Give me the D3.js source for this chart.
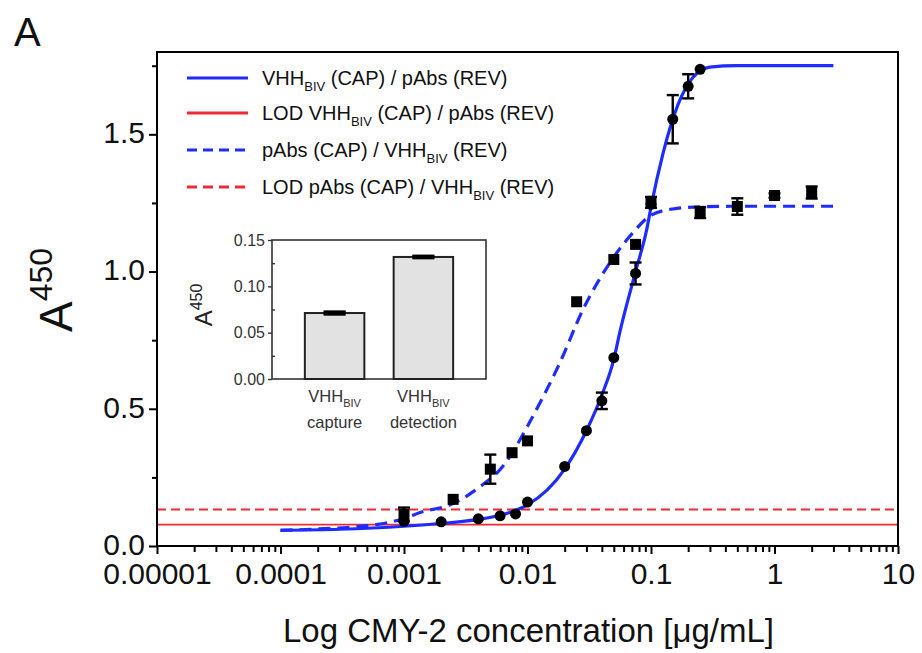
<!DOCTYPE html>
<html><head><meta charset="utf-8">
<script src="https://cdn.jsdelivr.net/npm/d3@7"></script>
<style>body{margin:0;background:#fff}svg{display:block}text{font-family:"Liberation Sans",Arial,Helvetica,sans-serif}</style>
</head><body><svg id="c" width="922" height="653"></svg>
<script>
// ---------- data ----------
const xTickValues = [1e-5, 1e-4, 1e-3, 1e-2, 1e-1, 1, 10];
const xTickLabels = ["0.00001", "0.0001", "0.001", "0.01", "0.1", "1", "10"];
const yTickValues = [0, 0.5, 1.0, 1.5];
const yMinorTicks = [0.25, 0.75, 1.25, 1.75];

// VHH_BIV (CAP) / pAbs (REV) : circles
const capConc = [0.001, 0.002, 0.004, 0.006, 0.008, 0.01, 0.02, 0.03, 0.04, 0.05, 0.075, 0.1, 0.15, 0.2, 0.25];
const capVal  = [0.09, 0.088, 0.099, 0.11, 0.117, 0.16, 0.29, 0.42, 0.529, 0.686, 0.993, 1.245, 1.555, 1.675, 1.737];
const capErr  = [0, 0, 0, 0, 0, 0, 0, 0, 0.03, 0, 0.04, 0, 0.088, 0.044, 0];

// pAbs (CAP) / VHH_BIV (REV) : squares
const detConc = [0.001, 0.0025, 0.005, 0.0075, 0.01, 0.025, 0.05, 0.075, 0.1, 0.25, 0.5, 1, 2];
const detVal  = [0.115, 0.17, 0.28, 0.34, 0.383, 0.89, 1.044, 1.099, 1.252, 1.215, 1.237, 1.277, 1.288];
const detErr  = [0.025, 0, 0.053, 0, 0, 0, 0, 0, 0.02, 0.02, 0.03, 0.008, 0.022];

// fitted curves
const capFitConc = [0.0001, 0.0003, 0.001, 0.002, 0.004, 0.006, 0.008, 0.01, 0.02, 0.03, 0.04, 0.05, 0.056, 0.075, 0.093, 0.1, 0.125, 0.166, 0.219, 0.3, 0.5, 1, 3];
const capFitVal  = [0.057, 0.061, 0.072, 0.082, 0.097, 0.112, 0.13, 0.15, 0.28, 0.42, 0.55, 0.68, 0.78, 1.0, 1.16, 1.235, 1.43, 1.61, 1.708, 1.745, 1.75, 1.75, 1.75];
const detFitConc = [0.0001, 0.0002, 0.0004, 0.00064, 0.001, 0.00135, 0.00236, 0.0041, 0.0063, 0.0087, 0.0101, 0.0183, 0.0281, 0.0466, 0.0715, 0.1, 0.15, 0.25, 0.5, 3];
const detFitVal  = [0.057, 0.062, 0.07, 0.08, 0.1, 0.122, 0.15, 0.215, 0.29, 0.387, 0.44, 0.668, 0.861, 1.033, 1.142, 1.205, 1.228, 1.236, 1.238, 1.238];

const lodCap = 0.078;
const lodDet = 0.133;

const legendMain = ["VHH", "LOD VHH", "pAbs (CAP) / VHH", "LOD pAbs (CAP) / VHH"];
const legendSub  = ["BIV", "BIV", "BIV", "BIV"];
const legendTail = [" (CAP) / pAbs (REV)", " (CAP) / pAbs (REV)", " (REV)", " (REV)"];
const legendColor = ["#1f2cff", "#ee2a35", "#1f2cff", "#ee2a35"];
const legendDash  = [null, null, "dash", "dash"];

// inset
const insetCats = ["capture", "detection"];
const insetVals = [0.0712, 0.1317];
const insetErr  = [0.0018, 0.0015];
const insetTicks = [0, 0.05, 0.10, 0.15];
const insetMinor = [0.025, 0.075, 0.125];

// ---------- layout ----------
const svg = d3.select("#c");
const L = 157, R = 898, T = 52, B = 546;
const x = d3.scaleLog().domain([1e-5, 10]).range([L, R]);
const y = d3.scaleLinear().domain([0, 1.8]).range([B, T]);
const blue = "#1f2cff", red = "#ee2a35";

// panel letter
svg.append("text").attr("x", 14).attr("y", 46).attr("font-size", 40).attr("fill", "#111").text("A");

// LOD lines
svg.append("line").attr("x1", L).attr("x2", R).attr("y1", y(lodCap)).attr("y2", y(lodCap))
  .attr("stroke", red).attr("stroke-width", 1.6);
svg.append("line").attr("x1", L).attr("x2", R).attr("y1", y(lodDet)).attr("y2", y(lodDet))
  .attr("stroke", red).attr("stroke-width", 2).attr("stroke-dasharray", "9,5");

// fitted curves
const line = d3.line().x(d => x(d[0])).y(d => y(d[1])).curve(d3.curveMonotoneX);
svg.append("path").attr("d", line(detFitConc.map((c, i) => [c, detFitVal[i]])))
  .attr("fill", "none").attr("stroke", blue).attr("stroke-width", 3.2).attr("stroke-dasharray", "12,7");
svg.append("path").attr("d", line(capFitConc.map((c, i) => [c, capFitVal[i]])))
  .attr("fill", "none").attr("stroke", blue).attr("stroke-width", 3.2);

// error bars
function errBars(conc, val, err) {
  const g = svg.append("g").attr("stroke", "#000").attr("stroke-width", 2.4);
  conc.forEach((c, i) => {
    if (!err[i]) return;
    const cx = x(c), y1 = y(val[i] - err[i]), y2 = y(val[i] + err[i]);
    g.append("line").attr("x1", cx).attr("x2", cx).attr("y1", y1).attr("y2", y2);
    g.append("line").attr("x1", cx - 6).attr("x2", cx + 6).attr("y1", y1).attr("y2", y1);
    g.append("line").attr("x1", cx - 6).attr("x2", cx + 6).attr("y1", y2).attr("y2", y2);
  });
}
errBars(capConc, capVal, capErr);
errBars(detConc, detVal, detErr);

svg.append("g").selectAll("rect").data(detConc).join("rect")
  .attr("x", d => x(d) - 5.5).attr("y", (d, i) => y(detVal[i]) - 5.5)
  .attr("width", 11).attr("height", 11).attr("fill", "#000");
svg.append("g").selectAll("circle").data(capConc).join("circle")
  .attr("cx", d => x(d)).attr("cy", (d, i) => y(capVal[i])).attr("r", 5.5).attr("fill", "#000");

// axes
const xMinor = [];
for (let e = -5; e < 1; e++) for (let k = 2; k <= 9; k++) xMinor.push(k * Math.pow(10, e));
const gx = svg.append("g").attr("transform", `translate(0,${B})`)
  .call(d3.axisBottom(x).tickValues(xTickValues).tickFormat((d, i) => xTickLabels[i]).tickSize(8).tickPadding(9));
svg.append("g").attr("transform", `translate(0,${B})`)
  .call(d3.axisBottom(x).tickValues(xMinor).tickFormat("").tickSize(6));
const gy = svg.append("g").attr("transform", `translate(${L},0)`)
  .call(d3.axisLeft(y).tickValues(yTickValues).tickFormat(d3.format(".1f")).tickSize(8).tickPadding(4));
svg.append("g").attr("transform", `translate(${L},0)`)
  .call(d3.axisLeft(y).tickValues(yMinorTicks).tickFormat("").tickSize(5));
svg.selectAll(".domain").remove();
svg.selectAll(".tick line").attr("stroke", "#000").attr("stroke-width", 2);
gx.selectAll("text").attr("font-size", 30).attr("fill", "#111").attr("font-family", "Liberation Sans, Arial, sans-serif");
gy.selectAll("text").attr("font-size", 30).attr("dy", "0.28em").attr("fill", "#111").attr("font-family", "Liberation Sans, Arial, sans-serif");

// frame
svg.append("rect").attr("x", L).attr("y", T).attr("width", R - L).attr("height", B - T)
  .attr("fill", "none").attr("stroke", "#000").attr("stroke-width", 2);

// axis titles
svg.append("text").attr("x", (L + R) / 2 + 1).attr("y", 642).attr("text-anchor", "middle")
  .attr("font-size", 33).attr("fill", "#111").text("Log CMY-2 concentration [μg/mL]");
const yt = svg.append("text").attr("transform", "translate(72,290) rotate(-90)").attr("text-anchor", "middle").attr("fill", "#111");
yt.append("tspan").attr("font-size", 46).text("A");
yt.append("tspan").attr("font-size", 32).attr("dy", -20).text("450");

// legend
const legY = [78, 113, 150, 187];
legendMain.forEach((m, i) => {
  const ln = svg.append("line").attr("x1", 187).attr("x2", 248).attr("y1", legY[i]).attr("y2", legY[i])
    .attr("stroke", legendColor[i]).attr("stroke-width", 3.2);
  if (legendDash[i]) ln.attr("stroke-dasharray", "10,6");
  const t = svg.append("text").attr("x", 262).attr("y", legY[i] + 7).attr("font-size", 20).attr("fill", "#111");
  t.append("tspan").text(m);
  t.append("tspan").attr("font-size", 13).attr("dy", 6).text(legendSub[i]);
  t.append("tspan").attr("dy", -6).text(legendTail[i]);
});

// ---------- inset ----------
const iL = 272, iR = 486, iT = 240, iB = 379;
const ix = d3.scaleBand().domain(insetCats).range([iL, iR]).paddingInner(0.33).paddingOuter(0.37);
const iy = d3.scaleLinear().domain([0, 0.15]).range([iB, iT]);
const ins = svg.append("g");
ins.append("rect").attr("x", iL).attr("y", iT).attr("width", iR - iL).attr("height", iB - iT)
  .attr("fill", "#fff").attr("stroke", "#333").attr("stroke-width", 1.6);
ins.selectAll("rect.bar").data(insetCats).join("rect").attr("class", "bar")
  .attr("x", d => ix(d)).attr("width", ix.bandwidth())
  .attr("y", (d, i) => iy(insetVals[i])).attr("height", (d, i) => iB - iy(insetVals[i]))
  .attr("fill", "#e2e2e2").attr("stroke", "#222").attr("stroke-width", 2);
insetCats.forEach((c, i) => {
  const cx = ix(c) + ix.bandwidth() / 2;
  const y1 = iy(insetVals[i] - insetErr[i]), y2 = iy(insetVals[i] + insetErr[i]);
  ins.append("rect").attr("x", cx - 11).attr("y", y2).attr("width", 22).attr("height", y1 - y2).attr("fill", "#000");
  ins.append("line").attr("x1", cx - 11).attr("x2", cx + 11).attr("y1", y1).attr("y2", y1).attr("stroke", "#000").attr("stroke-width", 2);
  ins.append("line").attr("x1", cx - 11).attr("x2", cx + 11).attr("y1", y2).attr("y2", y2).attr("stroke", "#000").attr("stroke-width", 2);
});
const giy = ins.append("g").attr("transform", `translate(${iL},0)`)
  .call(d3.axisLeft(iy).tickValues(insetTicks).tickFormat(d3.format(".2f")).tickSize(4).tickPadding(3));
const giym = ins.append("g").attr("transform", `translate(${iL},0)`)
  .call(d3.axisLeft(iy).tickValues(insetMinor).tickFormat("").tickSize(-3));
giy.select(".domain").remove(); giym.select(".domain").remove();
ins.selectAll(".tick line").attr("stroke", "#333").attr("stroke-width", 1.4);
giy.selectAll("text").attr("font-size", 16).attr("fill", "#333");
insetCats.forEach((c, i) => {
  const cx = ix(c) + ix.bandwidth() / 2;
  const t = ins.append("text").attr("x", cx).attr("y", 402).attr("text-anchor", "middle").attr("font-size", 16.5).attr("fill", "#333");
  t.append("tspan").text("VHH");
  t.append("tspan").attr("font-size", 11).attr("dy", 5).text("BIV");
  ins.append("text").attr("x", cx).attr("y", 428).attr("text-anchor", "middle").attr("font-size", 16.5).attr("fill", "#333").text(c);
});
const iyt = ins.append("text").attr("transform", "translate(212,305) rotate(-90)").attr("text-anchor", "middle").attr("fill", "#222");
iyt.append("tspan").attr("font-size", 24).text("A");
iyt.append("tspan").attr("font-size", 16).attr("dy", -10).text("450");
</script></body></html>
